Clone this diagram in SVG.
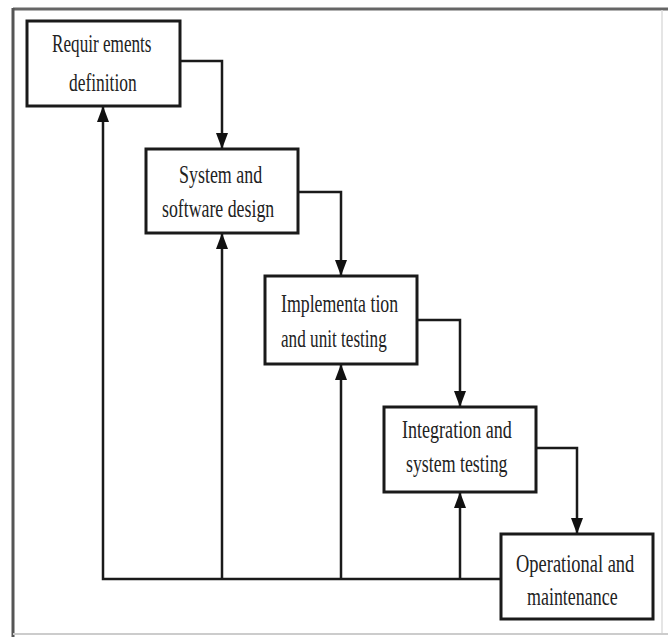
<svg xmlns="http://www.w3.org/2000/svg" width="668" height="637" viewBox="0 0 668 637">
<defs>
<style>
.box{fill:#fff;stroke:#1a1a1a;stroke-width:3}
.t{font-family:"Liberation Serif","Times New Roman",serif;font-size:26px;fill:#222}
.c{fill:none;stroke:#1a1a1a;stroke-width:2.5}
</style>
<marker id="ahd" markerUnits="userSpaceOnUse" markerWidth="16" markerHeight="12" viewBox="0 0 16 12" refX="16" refY="6" orient="auto">
<path d="M0,0 L16,6 L0,12 Z" fill="#111"/>
</marker>
</defs>
<rect width="668" height="637" fill="#fff"/>
<g id="frame">
<line x1="13" y1="9" x2="668" y2="9" stroke="#666" stroke-width="3"/>
<line x1="13" y1="8" x2="13" y2="637" stroke="#555" stroke-width="3"/>
<line x1="662" y1="10" x2="662" y2="634" stroke="#ddd" stroke-width="1.5"/>
<line x1="13" y1="634" x2="668" y2="634" stroke="#ccc" stroke-width="2"/>
</g>
<g id="connectors">
<path class="c" d="M180,61 H222 V149" marker-end="url(#ahd)"/>
<path class="c" d="M298,192 H341 V276" marker-end="url(#ahd)"/>
<path class="c" d="M417,320 H460 V407" marker-end="url(#ahd)"/>
<path class="c" d="M536,448 H577 V534" marker-end="url(#ahd)"/>
<path class="c" d="M501,579 H103 V106" marker-end="url(#ahd)"/>
<path class="c" d="M222,579 V233" marker-end="url(#ahd)"/>
<path class="c" d="M341,579 V364" marker-end="url(#ahd)"/>
<path class="c" d="M460,579 V492" marker-end="url(#ahd)"/>
</g>
<g id="requirements">
<rect class="box" x="27" y="21" width="153" height="85"/>
<text class="t" transform="translate(52,52) scale(0.66,1)">Requir ements</text>
<text class="t" transform="translate(69,91) scale(0.67,1)">definition</text>
</g>
<g id="design">
<rect class="box" x="146" y="149" width="152" height="84"/>
<text class="t" transform="translate(179,183) scale(0.69,1)">System and</text>
<text class="t" transform="translate(162,217) scale(0.685,1)">software design</text>
</g>
<g id="implementation">
<rect class="box" x="265" y="276" width="152" height="88"/>
<text class="t" transform="translate(281,312) scale(0.685,1)">Implementa tion</text>
<text class="t" transform="translate(281,347) scale(0.66,1)">and unit testing</text>
</g>
<g id="integration">
<rect class="box" x="384" y="407" width="152" height="85"/>
<text class="t" transform="translate(402,438) scale(0.695,1)">Integration and</text>
<text class="t" transform="translate(406,472) scale(0.686,1)">system testing</text>
</g>
<g id="operational">
<rect class="box" x="501" y="534" width="152" height="85"/>
<text class="t" transform="translate(516,572) scale(0.71,1)">Operational and</text>
<text class="t" transform="translate(527,605) scale(0.69,1)">maintenance</text>
</g>
</svg>
